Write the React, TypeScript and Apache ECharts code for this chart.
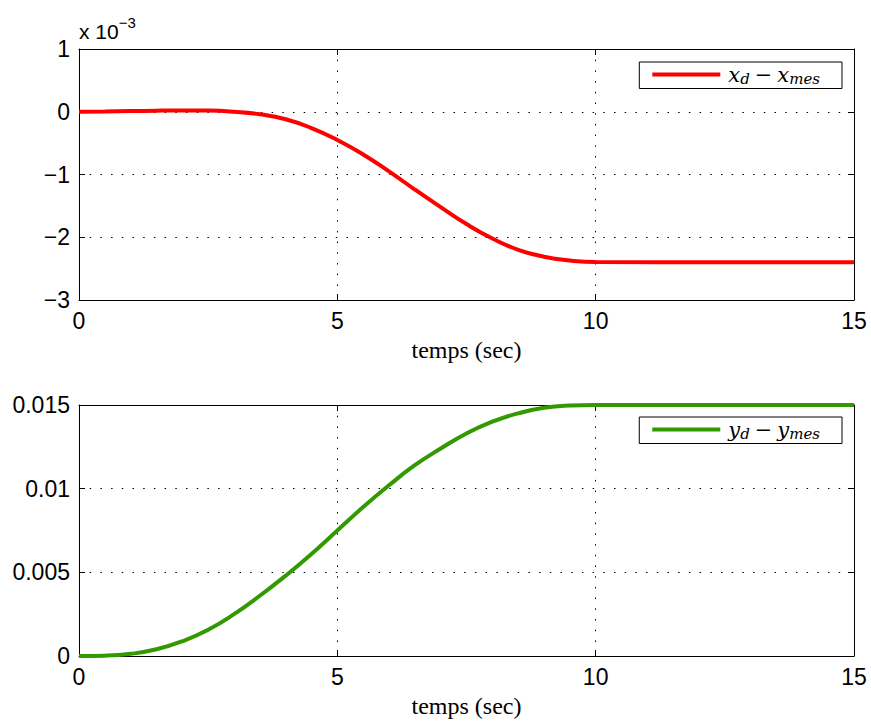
import React, { useEffect, useRef } from "react";
import * as echarts from "echarts";

// time (s)
const tX: number[] = [0, 0.5, 1, 1.5, 2, 2.5, 3, 3.5, 4, 4.5, 5, 5.5, 6, 6.5, 7, 7.5, 8, 8.5, 9, 9.5, 10, 12.5, 15];
// x_d - x_mes, in units of 1e-3
const errX: number[] = [0, 0.003, 0.01, 0.017, 0.02, 0.018, 0.0, -0.04, -0.12, -0.26, -0.45, -0.68, -0.95, -1.24, -1.52, -1.79, -2.02, -2.2, -2.31, -2.37, -2.395, -2.4, -2.4];
// y_d - y_mes
const tY: number[] = [0, 0.5, 1, 1.5, 2, 2.5, 3, 3.5, 4, 4.5, 5, 5.5, 6, 6.5, 7, 7.5, 8, 8.5, 9, 9.5, 10, 12.5, 15];
const errY: number[] = [0, 0.00002, 0.00013, 0.0004, 0.00088, 0.00157, 0.0025, 0.0036, 0.0048, 0.0061, 0.0075, 0.0089, 0.0102, 0.0114, 0.0124, 0.0133, 0.014, 0.0145, 0.01484, 0.01497, 0.015, 0.015, 0.015];

const xTicks = { min: 0, max: 15, interval: 5 };
const yTopTicks = { min: -3, max: 1, interval: 1 };
const yBotTicks = { min: 0, max: 0.015, interval: 0.005 };

const RED = "#ff0000";
const GREEN = "#339900";
const SANS = "Liberation Sans, Arial, sans-serif";
const SERIF = "Liberation Serif, Times New Roman, serif";
const MATH = "DejaVu Serif, serif";

export default function App() {
  const ref = useRef<HTMLDivElement>(null);
  useEffect(() => {
    if (!ref.current) return;
    const chart = echarts.init(ref.current, undefined, { renderer: "svg" });
    const labelStyle = { color: "#000", fontFamily: SANS, fontSize: 23 };
    const lineStyle = { color: "#000", width: 1 };
    const split = { show: true, lineStyle: { color: "#000", width: 1, type: [1.5, 9.2] as any } };
    const mkX = (grid: number, main: boolean) => ({
      type: "value",
      gridIndex: grid,
      position: main ? "bottom" : "top",
      ...xTicks,
      axisLine: { show: true, onZero: false, lineStyle },
      axisTick: { show: true, inside: true, length: 6, lineStyle },
      axisLabel: main
        ? { show: true, margin: 9, ...labelStyle }
        : { show: false },
      splitLine: main ? split : { show: false },
      name: main ? "temps (sec)" : "",
      nameLocation: "middle",
      nameGap: 38,
      nameTextStyle: { color: "#000", fontFamily: SERIF, fontSize: 24 },
    });
    const fmtTop = (v: number) => (v < 0 ? "\u2212" + Math.abs(v) : String(v));
    const fmtBot = (v: number) => String(parseFloat(v.toFixed(3)));
    const mkY = (grid: number, main: boolean, ticks: any, fmt: any) => ({
      type: "value",
      gridIndex: grid,
      position: main ? "left" : "right",
      ...ticks,
      axisLine: { show: true, onZero: false, lineStyle },
      axisTick: { show: true, inside: true, length: 6, lineStyle },
      axisLabel: main
        ? { show: true, margin: 9, formatter: fmt, ...labelStyle }
        : { show: false },
      splitLine: main ? split : { show: false },
    });
    const legendFmt = (name: string) =>
      name.startsWith("x")
        ? "{f|x}{s|d}{m|\u2212}{i|x}{s|mes}"
        : "{f|y}{s|d}{m|\u2212}{i|y}{s|mes}";
    const rich = {
      f: { fontFamily: MATH, fontStyle: "italic", fontSize: 21, color: "#000", padding: [0, 0, 0, 3] },
      i: { fontFamily: MATH, fontStyle: "italic", fontSize: 21, color: "#000" },
      s: { fontFamily: MATH, fontStyle: "italic", fontSize: 15, color: "#000", padding: [9, 0, 0, 0] },
      m: { fontFamily: MATH, fontSize: 21, color: "#000", padding: [0, 5, 0, 5] },
    };
    const mkLegend = (name: string, top: number) => ({
      data: [name],
      right: 29,
      top,
      orient: "vertical",
      icon: "rect",
      itemWidth: 68,
      itemHeight: 4,
      backgroundColor: "#fff",
      borderColor: "#000",
      borderWidth: 1,
      borderRadius: 0,
      padding: [2, 22, 2, 13],
      formatter: legendFmt,
      textStyle: { rich, color: "#000" },
      selectedMode: false,
    });
    chart.setOption({
      animation: false,
      backgroundColor: "#fff",
      grid: [
        { left: 79, right: 17, top: 49, height: 251 },
        { left: 79, right: 17, top: 405, height: 251 },
      ],
      xAxis: [mkX(0, true), mkX(0, false), mkX(1, true), mkX(1, false)],
      yAxis: [
        mkY(0, true, yTopTicks, fmtTop),
        mkY(0, false, yTopTicks, fmtTop),
        mkY(1, true, yBotTicks, fmtBot),
        mkY(1, false, yBotTicks, fmtBot),
      ],
      legend: [mkLegend("x_d - x_mes", 62), mkLegend("y_d - y_mes", 417)],
      graphic: [
        {
          type: "text",
          left: 79,
          top: 15,
          style: {
            text: "{b|x 10}{e|\u22123}",
            rich: {
              b: { fontFamily: SANS, fontSize: 21, fill: "#000", padding: [10, 0, 0, 0] },
              e: { fontFamily: SANS, fontSize: 15, fill: "#000", padding: [0, 0, 8, 0] },
            },
          },
        },
      ],
      series: [
        {
          name: "x_d - x_mes",
          type: "line",
          xAxisIndex: 0,
          yAxisIndex: 0,
          data: tX.map((t, i) => [t, errX[i]]),
          showSymbol: false,
          smooth: true,
          lineStyle: { color: RED, width: 4 },
          itemStyle: { color: RED },
        },
        {
          name: "y_d - y_mes",
          type: "line",
          xAxisIndex: 2,
          yAxisIndex: 2,
          data: tY.map((t, i) => [t, errY[i]]),
          showSymbol: false,
          smooth: true,
          lineStyle: { color: GREEN, width: 4 },
          itemStyle: { color: GREEN },
        },
      ],
    });
    return () => chart.dispose();
  }, []);
  return (
    <div
      ref={ref}
      style={{ position: "fixed", left: 0, top: 0, width: 871, height: 722, background: "#fff" }}
    />
  );
}
